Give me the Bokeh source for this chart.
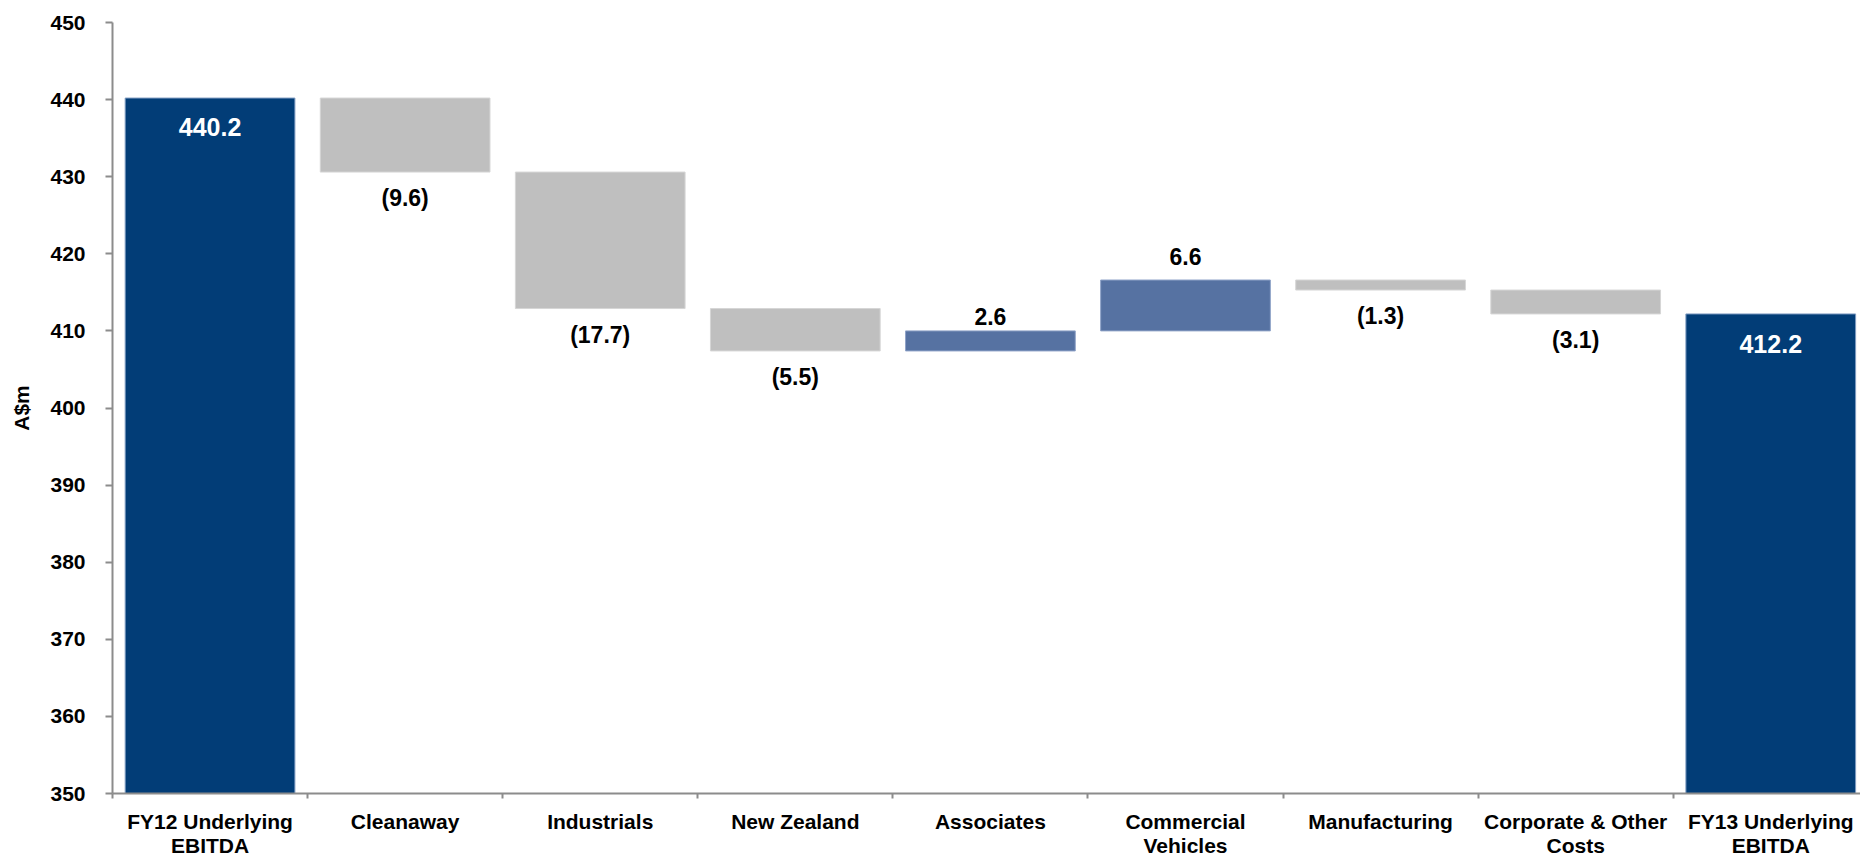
from bokeh.plotting import figure
from bokeh.models import Range1d, FixedTicker, ColumnDataSource, LabelSet
from bokeh.core.properties import value
from bokeh.embed import file_html
from bokeh.resources import INLINE

# EBITDA bridge FY12 -> FY13 (A$m)
categories = [
    "FY12 Underlying\nEBITDA", "Cleanaway", "Industrials", "New Zealand",
    "Associates", "Commercial\nVehicles", "Manufacturing",
    "Corporate & Other\nCosts", "FY13 Underlying\nEBITDA",
]
start_total = 440.2
changes = [-9.6, -17.7, -5.5, 2.6, 6.6, -1.3, -3.1]
end_total = 412.2
y_ticks = [350, 360, 370, 380, 390, 400, 410, 420, 430, 440, 450]

NAVY = "#023d77"
RISE = "#5672a2"
FALL = "#bfbfbf"
FONT = "Liberation Sans"

# build the floating bars
xs, bottoms, tops, fills, edges, texts, label_y, gaps, colors, sizes = ([] for _ in range(10))
n = len(categories)

xs.append(0.5); bottoms.append(350); tops.append(start_total)
fills.append(NAVY); edges.append("#7f9cc2")
texts.append(f"{start_total:.1f}"); label_y.append(start_total); gaps.append(-29)
colors.append("white"); sizes.append("25px")

level = start_total
for i, d in enumerate(changes):
    lo, hi = sorted([level, level + d])
    xs.append(i + 1.5); bottoms.append(lo); tops.append(hi)
    if d < 0:
        fills.append(FALL); edges.append("#d6d6d6")
        texts.append(f"({abs(d):.1f})"); label_y.append(lo); gaps.append(-26)
    else:
        fills.append(RISE); edges.append("#8fa3c8")
        texts.append(f"{d:.1f}"); label_y.append(hi); gaps.append(14 if d < 5 else 24)
    colors.append("black"); sizes.append("23px")
    level += d

xs.append(n - 0.5); bottoms.append(350); tops.append(end_total)
fills.append(NAVY); edges.append("#7f9cc2")
texts.append(f"{end_total:.1f}"); label_y.append(end_total); gaps.append(-30)
colors.append("white"); sizes.append("25px")

src = ColumnDataSource(dict(x=xs, bottom=bottoms, top=tops, fill=fills, edge=edges,
                            text=texts, ly=label_y, gap=gaps, tc=colors, ts=sizes))

p = figure(width=1860, height=859, output_backend="svg", toolbar_location=None,
           x_range=Range1d(0, 8.96), y_range=Range1d(350, 450),
           min_border_left=112, min_border_right=0, min_border_top=22, min_border_bottom=60)
p.outline_line_color = None
p.xgrid.visible = False
p.ygrid.visible = False
p.background_fill_color = "white"
p.border_fill_color = "white"

p.vbar(x="x", bottom="bottom", top="top", width=0.87, fill_color="fill",
       line_color="edge", line_width=1, source=src)

labels = LabelSet(x="x", y="ly", text="text", y_offset="gap", source=src,
                  text_align="center", text_baseline="middle",
                  text_font=value(FONT), text_font_style="bold",
                  text_font_size="ts", text_color="tc")
p.add_layout(labels)

# y axis
ya = p.yaxis[0]
ya.ticker = FixedTicker(ticks=y_ticks)
ya.axis_label = "A$m"
ya.axis_label_text_font = FONT
ya.axis_label_text_font_style = "bold"
ya.axis_label_text_font_size = "21px"
ya.axis_label_text_color = "black"
ya.axis_label_standoff = 14
ya.major_label_text_font = FONT
ya.major_label_text_font_style = "bold"
ya.major_label_text_font_size = "21px"
ya.major_label_text_color = "black"
ya.major_label_standoff = 20
ya.axis_line_color = "#8c8c8c"
ya.axis_line_width = 2
ya.major_tick_line_color = "#8c8c8c"
ya.major_tick_line_width = 2
ya.major_tick_out = 7
ya.major_tick_in = 0
ya.minor_tick_line_color = None

# x axis: labels at category centres, ticks at category boundaries
xa = p.xaxis[0]
centres = [i + 0.5 for i in range(n)]
xa.ticker = FixedTicker(ticks=centres, minor_ticks=list(range(n + 1)))
xa.major_label_overrides = {c: lab for c, lab in zip(centres, categories)}
xa.major_label_text_font = FONT
xa.major_label_text_font_style = "bold"
xa.major_label_text_font_size = "21px"
xa.major_label_text_color = "black"
xa.major_label_text_line_height = 1.05
xa.major_label_standoff = 10
xa.major_tick_line_color = None
xa.minor_tick_line_color = "#8c8c8c"
xa.minor_tick_line_width = 2
xa.minor_tick_out = 5
xa.minor_tick_in = 0
xa.axis_line_color = "#8c8c8c"
xa.axis_line_width = 2

open("out.html", "w").write(file_html(p, INLINE))
